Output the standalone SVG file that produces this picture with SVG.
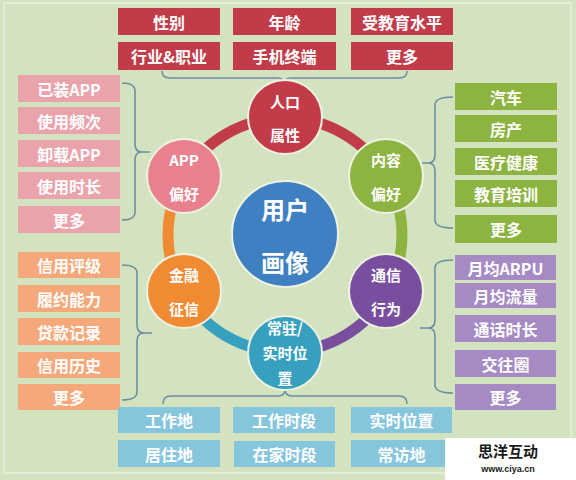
<svg xmlns="http://www.w3.org/2000/svg" width="576" height="480" viewBox="0 0 576 480">
<style>
.bx{stroke:none}
.red{fill:#c23b48}
.pink{fill:#eaa3ab}
.grn{fill:#8db441}
.org{fill:#f5a97a}
.pur{fill:#a58ac4}
.tea{fill:#86c6dd}
.t{font-family:"Noto Sans CJK SC","Noto Sans",sans-serif;font-weight:bold;fill:#ffffff;text-anchor:middle;dominant-baseline:central}
.bt{font-size:16px}
.ct{font-size:15px}
.br{fill:none;stroke:#6d8ea2;stroke-width:1.6}
.arc{fill:none;stroke-width:11}
.nd{stroke:#eef2e2;stroke-width:2}
</style>
<rect x="0" y="0" width="576" height="480" fill="#d4e3bf"/>
<rect x="4" y="3" width="567" height="470" fill="none" stroke="#e2ecd5" stroke-width="2"/>

<g id="connectors">
  <path class="arc" stroke="#c23b48" d="M285,118 A117,117 0 0 1 386.3,176.5"/>
  <path class="arc" stroke="#8db441" d="M386.3,176.5 A117,117 0 0 1 386.3,293.5"/>
  <path class="arc" stroke="#7a4e9e" d="M386.3,293.5 A117,117 0 0 1 285,352"/>
  <path class="arc" stroke="#37a0bf" d="M285,352 A117,117 0 0 1 183.7,293.5"/>
  <path class="arc" stroke="#f08b34" d="M183.7,293.5 A117,117 0 0 1 183.7,176.5"/>
  <path class="arc" stroke="#c23b48" d="M183.7,176.5 A117,117 0 0 1 285,118"/>
  <path class="br" d="M162,71 Q162,78 170,78 L277,78 Q284,78 284,84 Q284,78 291,78 L399,78 Q407,78 407,71"/>
  <path class="br" d="M122,83 Q135,83 135,91 L135,144 Q135,152 142,152 L150,152 M142,152 Q135,152 135,160 L135,212 Q135,220 122,220"/>
  <path class="br" d="M453,97 Q435,97 435,105 L435,155 Q435,163 428,163 L422,163 M428,163 Q435,163 435,171 L435,220 Q435,228 453,228"/>
  <path class="br" d="M122,265 Q137,265 137,273 L137,325 Q137,333 144,333 L152,333 M144,333 Q137,333 137,341 L137,392 Q137,400 122,400"/>
  <path class="br" d="M453,260 Q435,260 435,268 L435,320 Q435,328 428,328 L420,328 M428,328 Q435,328 435,336 L435,385 Q435,393 453,393"/>
  <path class="br" d="M163,404 Q163,396 171,396 L278,396 Q285,396 285,389 Q285,396 292,396 L399,396 Q407,396 407,404"/>
</g>

<g id="demographic-items">
  <rect class="bx red" x="118" y="8" width="102" height="27"/>
  <rect class="bx red" x="233" y="8" width="103" height="27"/>
  <rect class="bx red" x="351" y="8" width="102" height="27"/>
  <rect class="bx red" x="118" y="42" width="102" height="28"/>
  <rect class="bx red" x="233" y="42" width="103" height="28"/>
  <rect class="bx red" x="351" y="42" width="102" height="28"/>
  <text class="t bt" x="169" y="21.5">性别</text>
  <text class="t bt" x="284.5" y="21.5">年龄</text>
  <text class="t bt" x="402" y="21.5">受教育水平</text>
  <text class="t bt" x="169" y="56">行业&amp;职业</text>
  <text class="t bt" x="284.5" y="56">手机终端</text>
  <text class="t bt" x="402" y="56">更多</text>
</g>

<g id="app-items">
  <rect class="bx pink" x="18" y="75" width="102" height="27"/>
  <rect class="bx pink" x="18" y="107" width="102" height="27"/>
  <rect class="bx pink" x="18" y="140" width="102" height="27"/>
  <rect class="bx pink" x="18" y="172" width="102" height="27"/>
  <rect class="bx pink" x="18" y="206" width="102" height="27"/>
  <text class="t bt" x="69" y="88.5">已装APP</text>
  <text class="t bt" x="69" y="120.5">使用频次</text>
  <text class="t bt" x="69" y="153.5">卸载APP</text>
  <text class="t bt" x="69" y="185.5">使用时长</text>
  <text class="t bt" x="69" y="219.5">更多</text>
</g>

<g id="content-items">
  <rect class="bx grn" x="455" y="83" width="102" height="27"/>
  <rect class="bx grn" x="455" y="115" width="102" height="27"/>
  <rect class="bx grn" x="455" y="148" width="102" height="27"/>
  <rect class="bx grn" x="455" y="180" width="102" height="27"/>
  <rect class="bx grn" x="455" y="215" width="102" height="28"/>
  <text class="t bt" x="506" y="96.5">汽车</text>
  <text class="t bt" x="506" y="128.5">房产</text>
  <text class="t bt" x="506" y="161.5">医疗健康</text>
  <text class="t bt" x="506" y="193.5">教育培训</text>
  <text class="t bt" x="506" y="229">更多</text>
</g>

<g id="finance-items">
  <rect class="bx org" x="18" y="252" width="102" height="26"/>
  <rect class="bx org" x="18" y="285" width="102" height="27"/>
  <rect class="bx org" x="18" y="318" width="102" height="27"/>
  <rect class="bx org" x="18" y="352" width="102" height="26"/>
  <rect class="bx org" x="18" y="384" width="102" height="26"/>
  <text class="t bt" x="69" y="265">信用评级</text>
  <text class="t bt" x="69" y="298.5">履约能力</text>
  <text class="t bt" x="69" y="331.5">贷款记录</text>
  <text class="t bt" x="69" y="365">信用历史</text>
  <text class="t bt" x="69" y="397">更多</text>
</g>

<g id="telecom-items">
  <rect class="bx pur" x="455" y="255" width="101" height="25"/>
  <rect class="bx pur" x="455" y="283" width="101" height="25"/>
  <rect class="bx pur" x="455" y="315" width="101" height="27"/>
  <rect class="bx pur" x="455" y="350" width="101" height="27"/>
  <rect class="bx pur" x="455" y="384" width="101" height="26"/>
  <text class="t bt" x="505.5" y="267.5">月均ARPU</text>
  <text class="t bt" x="505.5" y="295.5">月均流量</text>
  <text class="t bt" x="505.5" y="328.5">通话时长</text>
  <text class="t bt" x="505.5" y="363.5">交往圈</text>
  <text class="t bt" x="505.5" y="397">更多</text>
</g>

<g id="location-items">
  <rect class="bx tea" x="118" y="407" width="102" height="26"/>
  <rect class="bx tea" x="233" y="407" width="102" height="26"/>
  <rect class="bx tea" x="351" y="407" width="101" height="26"/>
  <rect class="bx tea" x="118" y="440" width="102" height="27"/>
  <rect class="bx tea" x="234" y="441" width="101" height="26"/>
  <rect class="bx tea" x="351" y="440" width="101" height="27"/>
  <text class="t bt" x="169" y="420">工作地</text>
  <text class="t bt" x="284" y="420">工作时段</text>
  <text class="t bt" x="401.5" y="420">实时位置</text>
  <text class="t bt" x="169" y="453.5">居住地</text>
  <text class="t bt" x="284.5" y="454">在家时段</text>
  <text class="t bt" x="401.5" y="453.5">常访地</text>
</g>

<g id="node-demographic">
  <circle class="nd" cx="285" cy="117" r="37" fill="#c23b48"/>
  <text class="t ct" x="285" y="101">人口</text>
  <text class="t ct" x="285" y="134">属性</text>
</g>
<g id="node-app">
  <circle class="nd" cx="184" cy="176" r="37" fill="#e8818d"/>
  <text class="t ct" x="184" y="159">APP</text>
  <text class="t ct" x="184" y="193">偏好</text>
</g>
<g id="node-content">
  <circle class="nd" cx="386" cy="176" r="37" fill="#8db441"/>
  <text class="t ct" x="386" y="159">内容</text>
  <text class="t ct" x="386" y="193">偏好</text>
</g>
<g id="node-finance">
  <circle class="nd" cx="184" cy="291" r="37" fill="#f08b34"/>
  <text class="t ct" x="184" y="274">金融</text>
  <text class="t ct" x="184" y="308">征信</text>
</g>
<g id="node-telecom">
  <circle class="nd" cx="386" cy="291" r="37" fill="#7a4e9e"/>
  <text class="t ct" x="386" y="274">通信</text>
  <text class="t ct" x="386" y="308">行为</text>
</g>
<g id="node-location">
  <circle class="nd" cx="285" cy="353" r="37" fill="#37a0bf"/>
  <text class="t ct" x="285" y="327">常驻/</text>
  <text class="t ct" x="285" y="352">实时位</text>
  <text class="t ct" x="285" y="377">置</text>
</g>
<g id="node-center">
  <circle class="nd" cx="285" cy="234" r="53" fill="#3f80c2"/>
  <text class="t" style="font-size:24px" x="285" y="208">用户</text>
  <text class="t" style="font-size:24px" x="285" y="261">画像</text>
</g>

<g id="watermark">
  <rect x="445" y="438" width="131" height="42" fill="#ffffff"/>
  <text x="508" y="450" font-family="'Noto Sans CJK SC',sans-serif" font-size="15" font-weight="bold" fill="#1a1a1a" text-anchor="middle" dominant-baseline="central">思洋互动</text>
  <text x="508" y="469" font-family="'Liberation Sans',sans-serif" font-size="9" font-weight="bold" fill="#1a1a1a" text-anchor="middle" dominant-baseline="central">www.ciya.cn</text>
</g>
</svg>
